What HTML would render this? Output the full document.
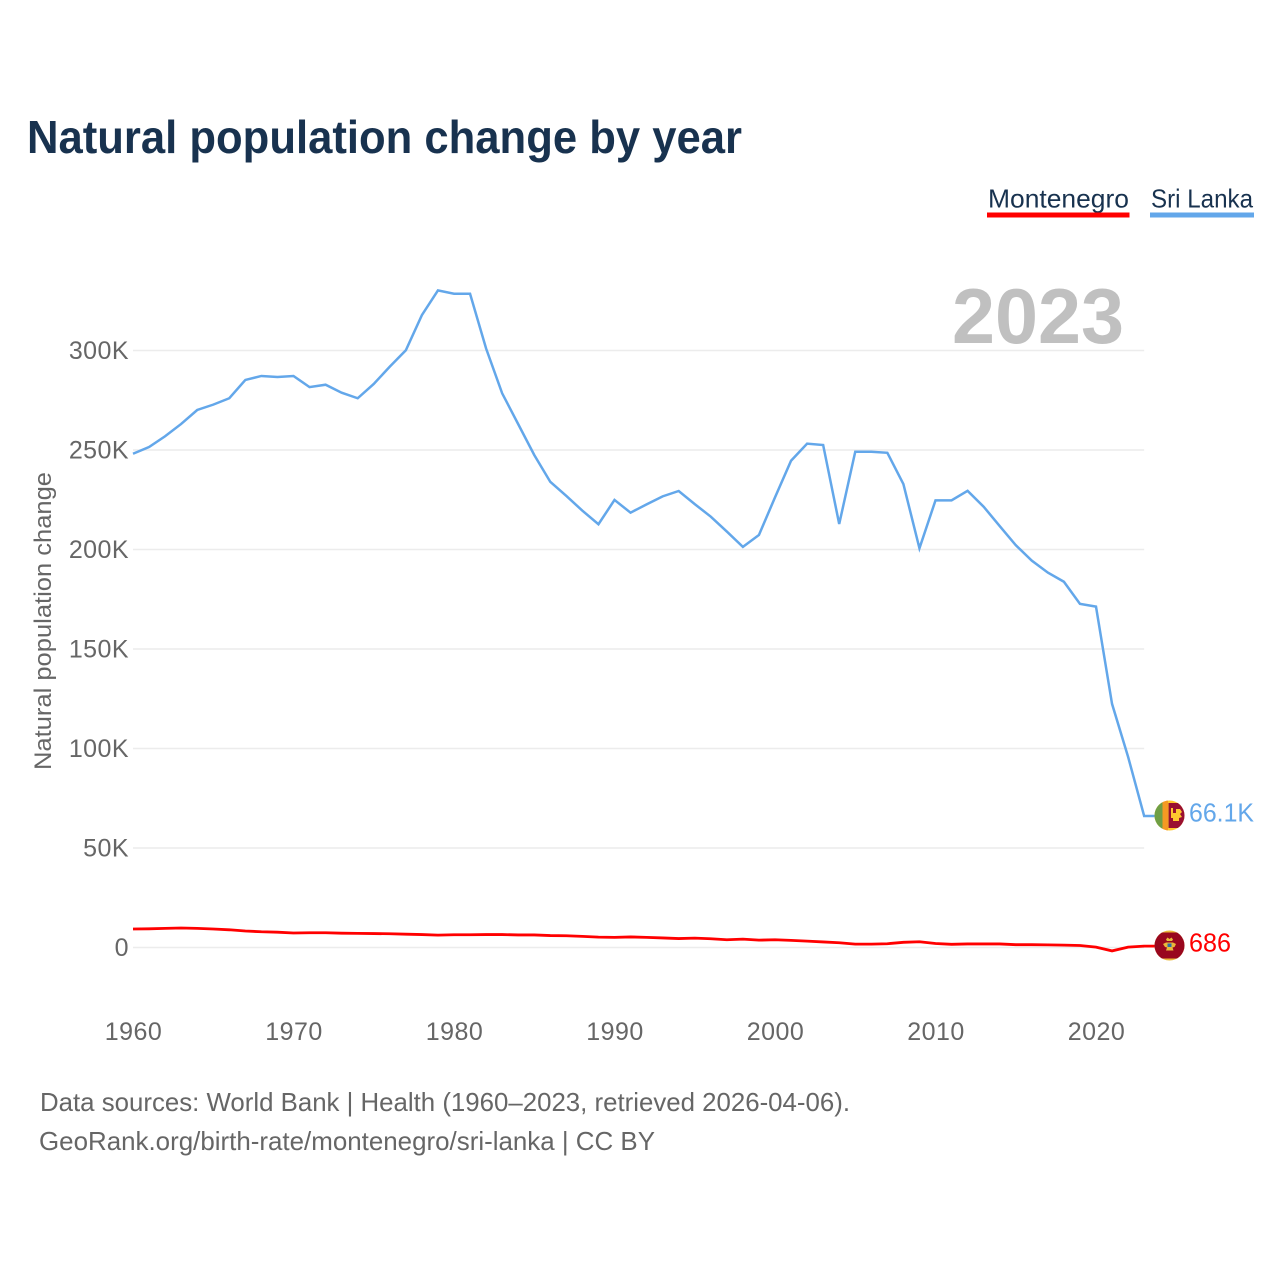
<!DOCTYPE html>
<html lang="en">
<head>
<meta charset="utf-8">
<title>Natural population change by year</title>
<style>
html,body{margin:0;padding:0;background:#fff}
svg{display:block}
text{font-family:"Liberation Sans",sans-serif}
</style>
</head>
<body>
<svg id="chart" xmlns="http://www.w3.org/2000/svg" width="1280" height="1280" viewBox="0 0 1280 1280">
  <rect width="1280" height="1280" fill="#ffffff"/>
  <text x="27" y="153" font-size="46" font-weight="700" fill="#18324f" textLength="715" lengthAdjust="spacingAndGlyphs">Natural population change by year</text>

  <g>
    <g>
      <text x="988" y="207.500" font-size="26" fill="#18324f" textLength="141" lengthAdjust="spacingAndGlyphs">Montenegro</text>
      <rect x="987" y="212.500" width="142.500" height="5" fill="#ff0000"/>
    </g>
    <g>
      <text x="1151" y="207.500" font-size="26" fill="#18324f" textLength="102" lengthAdjust="spacingAndGlyphs">Sri Lanka</text>
      <rect x="1150" y="212.500" width="104" height="5" fill="#63a7ea"/>
    </g>
  </g>

  <g id="grid"></g>
  <g id="y-ticks"></g>
  <g id="x-ticks"></g>

  <text transform="translate(51,621) rotate(-90)" text-anchor="middle" font-size="24" fill="#666666" textLength="298" lengthAdjust="spacingAndGlyphs">Natural population change</text>

  <text x="1124" y="343" text-anchor="end" font-size="78" font-weight="700" fill="#c0c0c0" textLength="172" lengthAdjust="spacingAndGlyphs">2023</text>

  <g id="series"></g>

  <g>
    <defs>
      <clipPath id="flag-clip-lk"><circle cx="1169.500" cy="815.500" r="15"/></clipPath>
      <clipPath id="flag-clip-me"><circle cx="1169.500" cy="945.500" r="15"/></clipPath>
    </defs>
    <g clip-path="url(#flag-clip-lk)">
      <rect x="1154" y="800" width="32" height="32" fill="#ffc82e"/>
      <rect x="1154" y="800" width="8.500" height="32" fill="#6f9f45"/>
      <rect x="1162.500" y="800" width="5.500" height="32" fill="#f59a23"/>
      <rect x="1168.500" y="803" width="18" height="25" fill="#9a1030"/>
      <path d="M1171 808h2v5h3v-4h4l2 3-2 2 2 3-3 1v3h-6v-3h-2z" fill="#ffc82e"/>
    </g>
    <text x="1189" y="821.500" font-size="26" fill="#63a7ea" textLength="65" lengthAdjust="spacingAndGlyphs">66.1K</text>
  </g>
  <g>
    <g clip-path="url(#flag-clip-me)">
      <rect x="1154" y="930" width="32" height="32" fill="#e9b93a"/>
      <rect x="1154" y="932.500" width="32" height="26" fill="#99071e"/>
      <path d="M1166 939.500l1.500-2 2 1.500 2-1.500 1.500 2-1 1.500h-5zM1163 944l3-1.500h7l3 1.500-1.500 3-2 .5 1 3h-7.500l1-3-2-.5z" fill="#e9b93a"/>
      <rect x="1167.500" y="943.500" width="4" height="3.500" fill="#2f6fa8"/>
    </g>
    <text x="1189" y="951.500" font-size="26" fill="#ff0000" textLength="42" lengthAdjust="spacingAndGlyphs">686</text>
  </g>

  <text x="40" y="1111" font-size="26" fill="#666666" textLength="810" lengthAdjust="spacingAndGlyphs">Data sources: World Bank | Health (1960–2023, retrieved 2026-04-06).</text>
  <text x="39" y="1150" font-size="26" fill="#666666" textLength="616" lengthAdjust="spacingAndGlyphs">GeoRank.org/birth-rate/montenegro/sri-lanka | CC BY</text>
</svg>
<script>
const firstYear = 1960;
const sriLankaValues = [248.1,251.5,256.9,263.1,270.1,272.8,276,285.2,287.2,286.7,287.2,281.6,282.8,278.8,276,283.2,291.9,300.1,317.8,330.2,328.5,328.5,301,278.5,263,247.5,234,226.9,219.5,212.7,224.9,218.5,222.7,226.7,229.4,222.8,216.5,209,201.3,207.3,226.2,244.6,253.2,252.5,212.8,249.1,249.1,248.6,232.9,200.6,224.7,224.7,229.5,221.5,211.8,202.2,194.4,188.4,183.8,172.7,171.3,122.4,95.8,66.1];
const montenegroValues = [9.3,9.4,9.6,9.8,9.6,9.3,8.9,8.3,7.9,7.7,7.3,7.4,7.4,7.2,7.1,7,6.9,6.7,6.5,6.2,6.4,6.4,6.5,6.5,6.3,6.3,6,5.9,5.6,5.2,5.1,5.3,5.1,4.8,4.5,4.7,4.4,3.9,4.2,3.7,3.9,3.6,3.2,2.8,2.4,1.7,1.7,1.9,2.6,2.9,2,1.6,1.8,1.8,1.8,1.4,1.4,1.3,1.2,1,0.2,-1.7,0.2,0.686];
const yTickValues = [0,50,100,150,200,250,300];
const yTickLabels = ['0','50K','100K','150K','200K','250K','300K'];
const xTickValues = [1960,1970,1980,1990,2000,2010,2020];

const NS = 'http://www.w3.org/2000/svg';
function xScale(year){ return 133 + (year - 1960) * 16.05; }
function yScale(value){ return 947.5 - value * 1.99; }

const gridGroup = document.getElementById('grid');
const yTickGroup = document.getElementById('y-ticks');
const xTickGroup = document.getElementById('x-ticks');
const seriesGroup = document.getElementById('series');

yTickValues.forEach(function(value, i){
  const line = document.createElementNS(NS, 'line');
  
  
  line.setAttribute('x1', xScale(1960));
  line.setAttribute('x2', xScale(2023));
  line.setAttribute('y1', yScale(value));
  line.setAttribute('y2', yScale(value));
  line.setAttribute('stroke', '#ececec');
  line.setAttribute('stroke-width', '1.500');
  gridGroup.appendChild(line);

  const label = document.createElementNS(NS, 'text');
  
  
  label.setAttribute('x', 129);
  label.setAttribute('y', yScale(value) + 8.5);
  label.setAttribute('text-anchor', 'end');
  label.setAttribute('font-size', '25');
  label.setAttribute('letter-spacing', '0.450');
  label.setAttribute('fill', '#666666');
  label.textContent = yTickLabels[i];
  yTickGroup.appendChild(label);
});

xTickValues.forEach(function(year){
  const label = document.createElementNS(NS, 'text');
  
  
  label.setAttribute('x', xScale(year) + 0.5);
  label.setAttribute('y', 1040);
  label.setAttribute('text-anchor', 'middle');
  label.setAttribute('font-size', '25');
  label.setAttribute('letter-spacing', '0.450');
  label.setAttribute('fill', '#666666');
  label.textContent = String(year);
  xTickGroup.appendChild(label);
});

function pointsFor(values){
  return values.map(function(value, i){
    return xScale(firstYear + i).toFixed(2) + ',' + yScale(value).toFixed(2);
  });
}

const sriLankaLine = document.createElementNS(NS, 'polyline');


sriLankaLine.setAttribute('points', pointsFor(sriLankaValues).join(' ') + ' 1155,' + yScale(sriLankaValues[sriLankaValues.length - 1]).toFixed(2));
sriLankaLine.setAttribute('fill', 'none');
sriLankaLine.setAttribute('stroke', '#63a7ea');
sriLankaLine.setAttribute('stroke-width', '2.500');
seriesGroup.appendChild(sriLankaLine);

const montenegroLine = document.createElementNS(NS, 'polyline');


montenegroLine.setAttribute('points', pointsFor(montenegroValues).join(' ') + ' 1155,' + yScale(montenegroValues[montenegroValues.length - 1]).toFixed(2));
montenegroLine.setAttribute('fill', 'none');
montenegroLine.setAttribute('stroke', '#ff0000');
montenegroLine.setAttribute('stroke-width', '2.800');
seriesGroup.appendChild(montenegroLine);
</script>
</body>
</html>
